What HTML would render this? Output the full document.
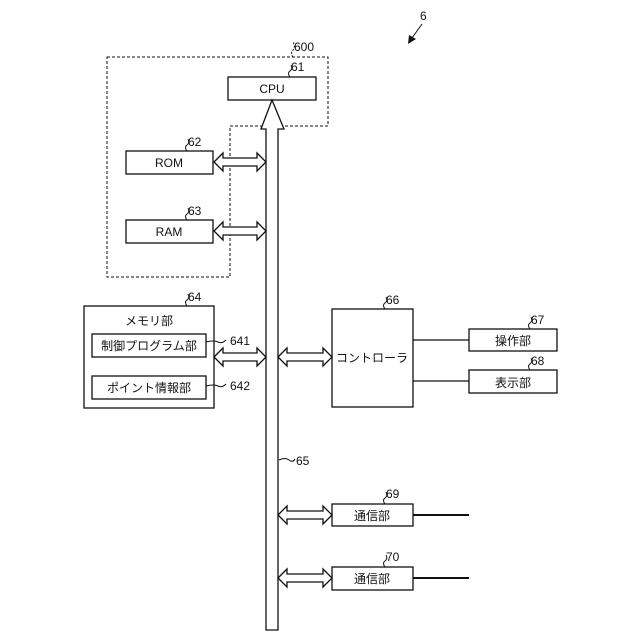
<!DOCTYPE html>
<html><head><meta charset="utf-8"><style>
html,body{margin:0;padding:0;background:#fff;}
svg{display:block;}
text{font-family:"Liberation Sans","Noto Sans CJK JP",sans-serif;fill:#111;}
</style></head><body>
<svg width="640" height="640" viewBox="0 0 640 640" xmlns="http://www.w3.org/2000/svg">
<g fill="none" stroke="#111" stroke-width="1.3">
<polygon points="107,57 328,57 328,126 230,126 230,277 107,277" stroke-dasharray="3,2" stroke-width="1"/>
<rect x="228" y="77" width="88" height="23"/>
<rect x="126" y="151" width="87" height="23"/>
<rect x="126" y="220" width="87" height="23"/>
<rect x="84" y="306" width="130" height="102"/>
<rect x="92" y="334" width="114" height="23"/>
<rect x="92" y="376" width="114" height="23"/>
<rect x="332" y="309" width="81" height="98"/>
<rect x="469" y="329" width="88" height="22"/>
<rect x="469" y="370" width="88" height="23"/>
<rect x="332" y="504" width="81" height="22"/>
<rect x="332" y="567" width="81" height="23"/>
<!-- bus -->
<polygon points="266,630 266,129 261,129 272,100 284,129 278,129 278,630" fill="#fff"/>
<!-- double arrows -->
<polygon points="214,162 223,153 223,158 257,158 257,153 266,162 257,171 257,166 223,166 223,171" fill="#fff"/>
<polygon points="214,231 223,222 223,227 257,227 257,222 266,231 257,240 257,235 223,235 223,240" fill="#fff"/>
<polygon points="214,357 223,348 223,353 257,353 257,348 266,357 257,366 257,361 223,361 223,366" fill="#fff"/>
<polygon points="278,357 287,348 287,353 323,353 323,348 332,357 323,366 323,361 287,361 287,366" fill="#fff"/>
<polygon points="278,515 287,506 287,511 323,511 323,506 332,515 323,524 323,519 287,519 287,524" fill="#fff"/>
<polygon points="278,578 287,569 287,574 323,574 323,569 332,578 323,587 323,582 287,582 287,587" fill="#fff"/>
<line x1="413" y1="340" x2="469" y2="340"/>
<line x1="413" y1="381" x2="469" y2="381"/>
<line x1="413" y1="515" x2="469" y2="515" stroke-width="2"/>
<line x1="413" y1="578" x2="469" y2="578" stroke-width="2"/>
<!-- leaders -->
<path d="M206,342 q8,-2 12,0 t8,-2" stroke-width="1"/>
<path d="M206,386 q8,-2 12,0 t8,-2" stroke-width="1"/>
<path d="M279,460 q6,-3 10,0 t6,-1" stroke-width="1"/>
<path d="M293,57 q-3,-4 0,-7 t0,-8" stroke-width="1" stroke-dasharray="2,1.5"/>
<path d="M290,77 q-3,-4 0,-6 t1,-6" stroke-width="1"/>
<path d="M187,151 q-3,-4 0,-6 t1,-6" stroke-width="1"/>
<path d="M187,220 q-3,-4 0,-6 t1,-6" stroke-width="1"/>
<path d="M187,306 q-3,-4 0,-6 t1,-6" stroke-width="1"/>
<path d="M385,309 q-3,-4 0,-6 t1,-6" stroke-width="1"/>
<path d="M530,329 q-3,-4 0,-6 t1,-6" stroke-width="1"/>
<path d="M530,370 q-3,-4 0,-6 t1,-6" stroke-width="1"/>
<path d="M385,504 q-3,-4 0,-6 t1,-6" stroke-width="1"/>
<path d="M385,567 q-3,-4 0,-6 t1,-6" stroke-width="1"/>
<path d="M422,24 l-10,14" stroke-width="1"/>
</g>
<polygon points="408,44 409,35 416,39" fill="#111"/>
<g font-size="12">
<text x="420" y="20">6</text>
<text x="294" y="51">600</text>
<text x="291" y="71">61</text>
<text x="272" y="93" text-anchor="middle">CPU</text>
<text x="188" y="146">62</text>
<text x="169" y="167" text-anchor="middle">ROM</text>
<text x="188" y="215">63</text>
<text x="169" y="236" text-anchor="middle">RAM</text>
<text x="188" y="301">64</text>
<text x="149" y="325" text-anchor="middle">メモリ部</text>
<text x="149" y="350" text-anchor="middle">制御プログラム部</text>
<text x="149" y="392" text-anchor="middle">ポイント情報部</text>
<text x="230" y="345">641</text>
<text x="230" y="390">642</text>
<text x="386" y="304">66</text>
<text x="372" y="362" text-anchor="middle">コントローラ</text>
<text x="531" y="324">67</text>
<text x="513" y="345" text-anchor="middle">操作部</text>
<text x="531" y="365">68</text>
<text x="513" y="387" text-anchor="middle">表示部</text>
<text x="296" y="465">65</text>
<text x="386" y="498">69</text>
<text x="372" y="520" text-anchor="middle">通信部</text>
<text x="386" y="561">70</text>
<text x="372" y="583" text-anchor="middle">通信部</text>
</g>
</svg>
</body></html>
